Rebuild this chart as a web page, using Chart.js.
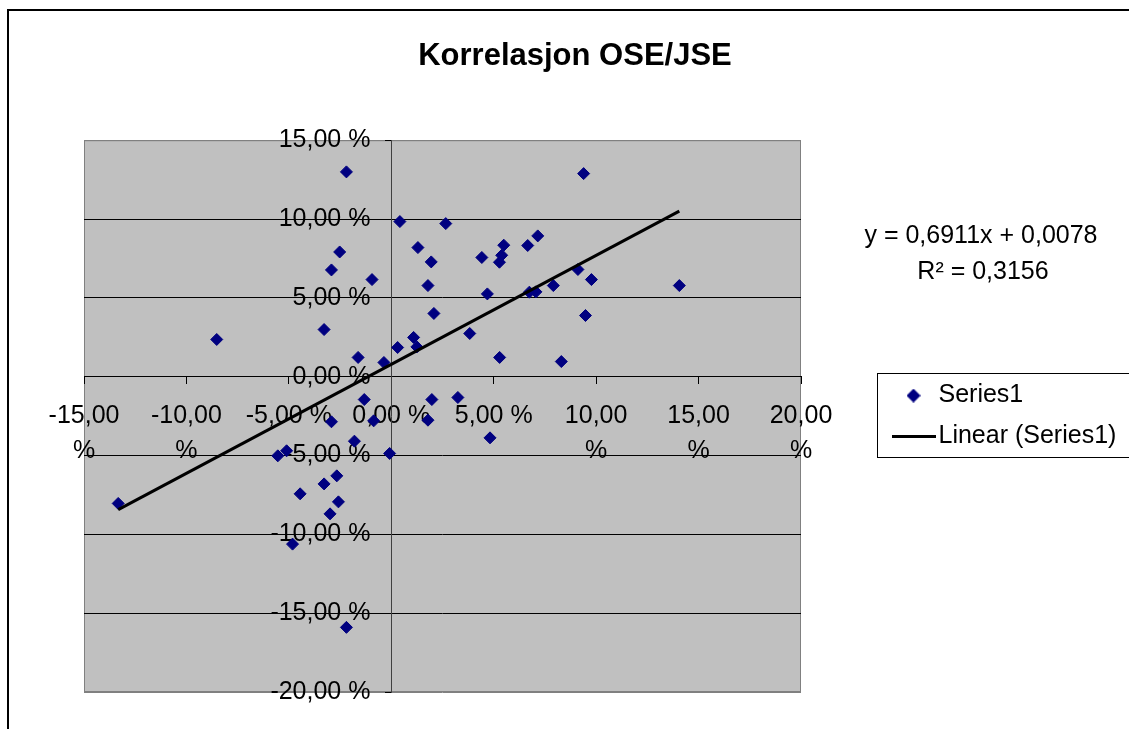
<!DOCTYPE html>
<html>
<head>
<meta charset="utf-8">
<title>Korrelasjon OSE/JSE</title>
<script src="https://cdn.jsdelivr.net/npm/chart.js@4.4.0/dist/chart.umd.min.js"></script>
<style>
  body { margin: 0; background: #fff; }
  #wrap { width: 1129px; height: 729px; }
</style>
</head>
<body>
<div id="wrap"><canvas id="chart" width="1129" height="729"></canvas></div>
<script>
// returns in per cent, OSE on x and JSE on y
const oseReturns = [
  -2.19, -2.52, -2.92, -0.94, -3.28, -8.52, -1.62, -0.36, 0.31, 9.39,
  0.42, 2.66, 1.30, 1.95, 5.49, 5.39, 5.28, 4.42, 6.66, 7.15,
  1.79, 2.08, 4.69, 6.74, 7.06, 7.91, 9.11, 9.77, 14.06, 9.48,
  3.83, 1.09, 1.25, 5.29, 8.30, -1.32, -2.92, -0.86, -1.80, -0.08,
  -5.54, -5.11, -2.66, -3.28, -4.45, -2.58, -2.99, -13.33, -4.82, -2.19,
  1.98, 3.25, 1.79, 4.82
]
const jseReturns = [
  12.99, 7.91, 6.77, 6.16, 2.99, 2.36, 1.22, 0.90, 1.85, 12.88,
  9.84, 9.71, 8.19, 7.28, 8.34, 7.70, 7.26, 7.56, 8.32, 8.93,
  5.78, 4.01, 5.25, 5.36, 5.38, 5.78, 6.80, 6.16, 5.78, 3.88,
  2.74, 2.49, 1.89, 1.22, 0.96, -1.45, -2.86, -2.80, -4.09, -4.87,
  -5.02, -4.70, -6.29, -6.80, -7.43, -7.94, -8.70, -8.04, -10.62, -15.90,
  -1.45, -1.32, -2.76, -3.88
]

// excel trendline
const trendSlope = 0.6911
const trendIntercept = 0.0078
const rSquared = 0.3156

const xTickValues = [-15, -10, -5, 0, 5, 10, 15, 20]
const yTickValues = [-20, -15, -10, -5, 0, 5, 10, 15]

const LEGEND_LEFT = 885
const TITLE_CENTER = 575
const FONT = '"Liberation Sans", Arial, sans-serif'

Chart.defaults.font.family = FONT
Chart.defaults.color = '#000'

function comma(v, digits){
    return v.toFixed(digits).replace('.', ',')
}

const points = oseReturns.map((x, i) => ({x: x, y: jseReturns[i]}))

const xMin = Math.min(...oseReturns)
const xMax = Math.max(...oseReturns)
const trendPoints = [xMin, xMax].map(x => ({x: x, y: trendSlope * x + trendIntercept * 100}))

// small icons for the legend
function makeIcon(w, h, draw){
    const c = document.createElement('canvas')
    c.width = w
    c.height = h
    draw(c.getContext('2d'))
    return c
}
const diamondIcon = makeIcon(14, 14, (g) => {
    g.fillStyle = '#000080'
    g.beginPath()
    g.moveTo(7, 0); g.lineTo(14, 7); g.lineTo(7, 14); g.lineTo(0, 7)
    g.closePath()
    g.fill()
})
const lineIcon = makeIcon(44, 3, (g) => {
    g.fillStyle = '#000'
    g.fillRect(0, 0, 44, 3)
})

const excelLook = {
    id: 'excelLook',
    afterLayout(chart){
        const area = chart.chartArea
        const lg = chart.legend
        lg.left = LEGEND_LEFT
        lg.right = chart.width + 60
        lg.width = lg.right - lg.left
        lg.top = area.top
        lg.bottom = area.bottom
        lg.height = area.bottom - area.top

        const t = chart.titleBlock
        t.left = 0
        t.right = TITLE_CENTER * 2
        t.width = t.right
    },
    beforeDraw(chart){
        const {ctx, chartArea: a} = chart
        ctx.save()
        ctx.fillStyle = '#fff'
        ctx.fillRect(0, 0, chart.width, chart.height)
        ctx.strokeStyle = '#000'
        ctx.lineWidth = 2
        ctx.strokeRect(8, 10, chart.width + 40, chart.height + 40)
        ctx.fillStyle = '#c0c0c0'
        ctx.fillRect(a.left, a.top, a.right - a.left, a.bottom - a.top)
        ctx.strokeStyle = '#808080'
        ctx.lineWidth = 1
        ctx.strokeRect(a.left + 0.5, a.top + 0.5, a.right - a.left - 1, a.bottom - a.top - 1)
        ctx.restore()
    },
    afterDraw(chart){
        const ctx = chart.ctx
        ctx.save()
        ctx.fillStyle = '#000'
        ctx.font = '25px ' + FONT
        ctx.textAlign = 'center'
        ctx.textBaseline = 'middle'
        ctx.fillText(`y = ${comma(trendSlope, 4)}x + ${comma(trendIntercept, 4)}`, 981, 236)
        ctx.fillText(`R² = ${comma(rSquared, 4)}`, 983, 272)

        const hb = chart.legend.legendHitBoxes
        if (hb && hb.length){
            const last = hb[hb.length - 1]
            const top = Math.round(hb[0].top - 10) + 0.5
            const bottom = Math.round(last.top + last.height + 8) + 0.5
            ctx.strokeStyle = '#000'
            ctx.lineWidth = 1
            ctx.strokeRect(Math.round(hb[0].left - 24) + 0.5, top, chart.width, bottom - top)
        }
        ctx.restore()
    }
}

const data = {
    datasets: [{
        label: 'Series1',
        data: points,
        pointStyle: 'rectRot',
        pointRadius: 6,
        pointHoverRadius: 6,
        backgroundColor: '#000080',
        borderColor: '#000080',
        borderWidth: 1,
        showLine: false,
        order: 1
    },
    {
        label: 'Linear (Series1)',
        data: trendPoints,
        showLine: true,
        borderColor: '#000',
        backgroundColor: '#000',
        borderWidth: 3,
        pointRadius: 0,
        fill: false,
        order: 0
    }]
}

const config = {
    type: 'scatter',
    data: data,
    plugins: [excelLook],
    options: {
        responsive: false,
        animation: false,
        devicePixelRatio: 1,
        layout: {
            padding: {left: 84, right: 328, top: 0, bottom: 37}
        },
        scales: {
            x: {
                type: 'linear',
                position: {y: 0},
                min: -15,
                max: 20,
                afterBuildTicks: (scale) => { scale.ticks = xTickValues.map(v => ({value: v})) },
                afterFit: (scale) => { scale.height = 0 },
                grid: {drawOnChartArea: false, drawTicks: true, tickLength: 7, tickColor: '#000'},
                border: {display: true, color: '#000', width: 1},
                ticks: {
                    autoSkip: false,
                    maxRotation: 0,
                    padding: 15,
                    font: {size: 25, lineHeight: 1.4},
                    callback: (v) => Math.abs(v) >= 10 ? [comma(v, 2), '%'] : comma(v, 2) + ' %'
                }
            },
            y: {
                type: 'linear',
                position: {x: 0},
                min: -20,
                max: 15,
                afterBuildTicks: (scale) => { scale.ticks = yTickValues.map(v => ({value: v})) },
                afterFit: (scale) => { scale.width = 0 },
                grid: {
                    // outer lines belong to the grey plot frame
                    color: (c) => (c.tick && (c.tick.value === 15 || c.tick.value === -20)) ? '#808080' : '#000',
                    lineWidth: 1,
                    drawTicks: true,
                    tickLength: 6,
                    tickColor: '#000'
                },
                border: {display: true, color: '#404040', width: 1},
                ticks: {
                    autoSkip: false,
                    font: {size: 25, lineHeight: 1.4},
                    // centred axis draws labels flush to the axis, trailing spaces keep the gap
                    callback: (v) => comma(v, 2) + ' %   '
                }
            }
        },
        plugins: {
            title: {
                display: true,
                text: 'Korrelasjon OSE/JSE',
                color: '#000',
                font: {size: 31, weight: 'bold', lineHeight: 1.2},
                padding: {top: 38, bottom: 65}
            },
            legend: {
                position: 'chartArea',
                align: 'center',
                labels: {
                    usePointStyle: true,
                    padding: 16,
                    color: '#000',
                    font: {size: 25},
                    generateLabels: (chart) => {
                        const items = Chart.defaults.plugins.legend.labels.generateLabels(chart)
                        items.sort((a, b) => a.datasetIndex - b.datasetIndex)
                        items.forEach(item => {
                            item.pointStyle = item.datasetIndex === 0 ? diamondIcon : lineIcon
                        })
                        return items
                    }
                }
            },
            tooltip: {enabled: false}
        }
    }
}

const myChart = new Chart(document.getElementById('chart'), config)
</script>
</body>
</html>
